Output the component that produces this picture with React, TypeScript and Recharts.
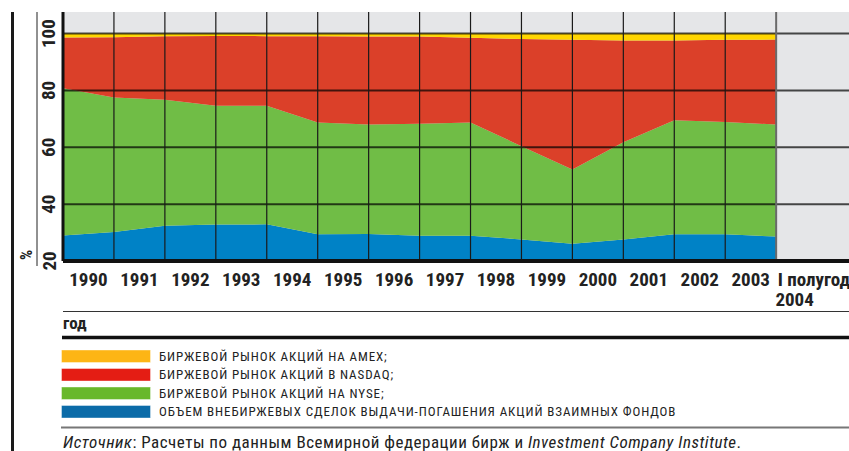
import { Area, AreaChart, ReferenceLine, XAxis, YAxis, CartesianGrid } from "recharts";

// доли сегментов рынка, % (точки на границах годовых интервалов)
const FUNDS = [29.0, 30.2, 32.4, 32.8, 32.9, 29.4, 29.5, 28.9, 28.9, 27.6, 26.1, 27.6, 29.4, 29.4, 28.6];
const NYSE = [51.8, 47.3, 44.3, 41.8, 41.7, 39.3, 38.5, 39.4, 39.8, 32.8, 26.1, 34.2, 40.1, 39.5, 39.4];
const NASDAQ = [17.8, 21.2, 22.4, 24.6, 24.5, 30.4, 31.0, 30.7, 29.8, 37.7, 45.6, 35.8, 28.1, 28.9, 29.9];
const AMEX = [1.4, 1.3, 0.9, 0.8, 0.9, 0.9, 1.0, 1.0, 1.5, 1.9, 2.2, 2.4, 2.4, 2.2, 2.1];

const PERIODS = [
  "1990", "1991", "1992", "1993", "1994", "1995", "1996",
  "1997", "1998", "1999", "2000", "2001", "2002", "2003",
];
const HALF_YEAR = ["I полугодие", "2004"];
const Y_TICKS = [20, 40, 60, 80, 100];

const LEGEND = [
  { label: "БИРЖЕВОЙ РЫНОК АКЦИЙ НА AMEX;", color: "#fdb515" },
  { label: "БИРЖЕВОЙ РЫНОК АКЦИЙ В NASDAQ;", color: "#e41d14" },
  { label: "БИРЖЕВОЙ РЫНОК АКЦИЙ НА NYSE;", color: "#68b82b" },
  { label: "ОБЪЕМ ВНЕБИРЖЕВЫХ СДЕЛОК ВЫДАЧИ-ПОГАШЕНИЯ АКЦИЙ ВЗАИМНЫХ ФОНДОВ", color: "#0b6ba8" },
];

const data = FUNDS.map((f, i) => ({
  x: i,
  funds: f,
  nyse: NYSE[i],
  nasdaq: NASDAQ[i],
  amex: AMEX[i],
}));

const COND = '"Liberation Sans Narrow", "Roboto Condensed", "DejaVu Sans Condensed", "Liberation Sans", Arial, sans-serif';

const XTick = ({ x, y, payload }: any) => {
  const idx = Math.round(payload.value - 0.5);
  if (idx < PERIODS.length) {
    return (
      <text x={x} y={y + 17} textAnchor="middle" fontFamily={COND} fontWeight="bold" fontSize={19} fill="#222">
        {PERIODS[idx]}
      </text>
    );
  }
  return (
    <g fontFamily={COND} fontWeight="bold" fontSize={19} fill="#222">
      <text x={x - 24} y={y + 17} textAnchor="start">{HALF_YEAR[0]}</text>
      <text x={x - 7} y={y + 37} textAnchor="middle">{HALF_YEAR[1]}</text>
    </g>
  );
};

const YTick = ({ y, payload }: any) => (
  <text
    x={49}
    y={y}
    transform={`rotate(-90, 49, ${y})`}
    textAnchor="middle"
    dominantBaseline="central"
    fontFamily={COND}
    fontWeight="bold"
    fontSize={19}
    fill="#222"
  >
    {payload.value}
  </text>
);

export default function App() {
  const xTicks = PERIODS.map((_, i) => i + 0.5).concat([PERIODS.length + 0.5]);
  return (
    <div style={{ position: "relative", width: 849, height: 451, background: "#fff", overflow: "hidden" }}>
      <style>{`body{margin:0}`}</style>
      <AreaChart
        width={849}
        height={320}
        data={data}
        margin={{ top: 12, right: 0, left: 0, bottom: 0 }}
        style={{ position: "absolute", top: 0, left: 0 }}
      >
        <CartesianGrid fill="#e5e6e8" horizontal={false} vertical={false} />
        <XAxis
          dataKey="x"
          type="number"
          domain={[0, 15.43]}
          allowDataOverflow
          ticks={xTicks}
          interval={0}
          tick={<XTick />}
          tickLine={false}
          axisLine={{ stroke: "#111", strokeWidth: 4 }}
          height={59}
        />
        <YAxis
          type="number"
          domain={[20, 107.6]}
          allowDataOverflow
          ticks={Y_TICKS}
          interval={0}
          tick={<YTick />}
          tickLine={false}
          axisLine={{ stroke: "#111", strokeWidth: 3 }}
          width={63}
        />
        <Area type="linear" dataKey="funds" stackId="1" stroke="none" fill="#0082c6" fillOpacity={1} isAnimationActive={false} />
        <Area type="linear" dataKey="nyse" stackId="1" stroke="none" fill="#70bd46" fillOpacity={1} isAnimationActive={false} />
        <Area type="linear" dataKey="nasdaq" stackId="1" stroke="none" fill="#db4029" fillOpacity={1} isAnimationActive={false} />
        <Area type="linear" dataKey="amex" stackId="1" stroke="none" fill="#ffd600" fillOpacity={1} isAnimationActive={false} />
        {[40, 60, 80, 100].map((v) => (
          <ReferenceLine key={"h" + v} y={v} stroke="#000" strokeOpacity={0.7} strokeWidth={2} />
        ))}
        {PERIODS.map((_, i) =>
          i === 0 ? null : (
            <ReferenceLine key={"v" + i} x={i} stroke="#1a1a1a" strokeWidth={1.2} />
          )
        )}
        <ReferenceLine x={PERIODS.length} stroke="#6a6a6a" strokeWidth={2} />
      </AreaChart>

      <svg width={849} height={451} style={{ position: "absolute", top: 0, left: 0, pointerEvents: "none" }}>
        <line x1={12.5} y1={12} x2={12.5} y2={451} stroke="#1a1a1a" strokeWidth={3} />
        <line x1={37} y1={12} x2={37} y2={266} stroke="#222" strokeWidth={1} />
        <text
          x={26}
          y={255}
          transform="rotate(-90, 26, 255)"
          textAnchor="middle"
          dominantBaseline="central"
          fontFamily={COND}
          fontWeight="bold"
          fontSize={16}
          fill="#222"
        >
          %
        </text>
        <line x1={63} y1={311.5} x2={849} y2={311.5} stroke="#333" strokeWidth={1.2} />
        <text x={63} y={329} fontFamily={COND} fontWeight="bold" fontSize={17} fill="#222">
          год
        </text>
        <line x1={62} y1={337.5} x2={849} y2={337.5} stroke="#111" strokeWidth={3.5} />
        {LEGEND.map((item, i) => (
          <g key={item.label}>
            <rect x={61.5} y={350 + i * 18.5} width={89} height={12.5} fill={item.color} stroke="#fff" strokeOpacity={0.5} strokeWidth={0.8} />
            <text x={159} y={360.5 + i * 18.5} fontFamily={COND} fontSize={13} letterSpacing={0.9} fill="#222">
              {item.label}
            </text>
          </g>
        ))}
        <line x1={61} y1={427.5} x2={849} y2={427.5} stroke="#777" strokeWidth={2} />
        <text x={63} y={447.5} fontFamily={COND} fontSize={17} letterSpacing={0.5} fill="#222">
          <tspan fontStyle="italic">Источник</tspan>
          <tspan>: Расчеты по данным Всемирной федерации бирж и </tspan>
          <tspan fontStyle="italic">Investment Company Institute</tspan>
          <tspan>.</tspan>
        </text>
      </svg>
    </div>
  );
}
